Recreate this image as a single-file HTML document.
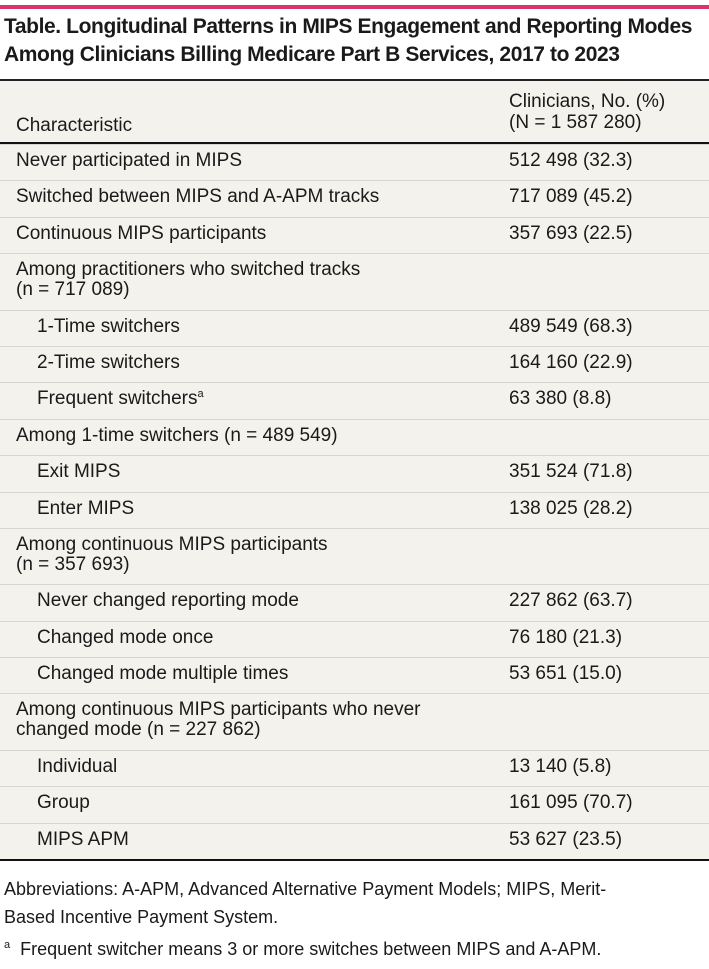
<!DOCTYPE html>
<html><head><meta charset="utf-8"><style>
body{margin:0;width:709px;height:969px;background:#fff;font-family:"Liberation Sans",sans-serif;color:#1a1a1a;position:relative;overflow:hidden}
.bar{position:absolute;left:0;top:5px;width:709px;height:4px;background:#d9356b}
.title{position:absolute;left:4px;top:13px;font-size:21px;line-height:28px;font-weight:bold;letter-spacing:-0.4px}
.tbl{position:absolute;left:0;top:79px;width:709px;background:#f3f2ec;border-top:2px solid #222;border-bottom:2px solid #111}
.hdr{height:61px;border-bottom:2px solid #111;position:relative;font-size:19px}
.row{position:relative;border-top:1px solid #d8d6d0;font-size:19px;line-height:20px}
.row:first-of-type{border-top:none}
.c1{position:absolute;left:16px}
.in{left:37px}
.c2{position:absolute;left:509px}
.s{height:35.4px}.s .c1,.s .c2{top:6px}
.d{height:55.4px}.d .c1{top:6px}
sup{font-size:11px;line-height:0;vertical-align:7px}
.foot{position:absolute;left:4px;font-size:18px}
</style></head><body>
<div class="bar"></div>
<div class="title">Table. Longitudinal Patterns in MIPS Engagement and Reporting Modes<br>Among Clinicians Billing Medicare Part B Services, 2017 to 2023</div>
<div class="tbl">
<div class="hdr"><span class="c1" style="top:34px">Characteristic</span><span class="c2" style="top:10px;line-height:21px">Clinicians, No. (%)<br>(N = 1 587 280)</span></div>
<div class="row s"><span class="c1">Never participated in MIPS</span><span class="c2">512 498 (32.3)</span></div>
<div class="row s"><span class="c1">Switched between MIPS and A-APM tracks</span><span class="c2">717 089 (45.2)</span></div>
<div class="row s"><span class="c1">Continuous MIPS participants</span><span class="c2">357 693 (22.5)</span></div>
<div class="row d"><span class="c1">Among practitioners who switched tracks<br>(n = 717 089)</span></div>
<div class="row s"><span class="c1 in">1-Time switchers</span><span class="c2">489 549 (68.3)</span></div>
<div class="row s"><span class="c1 in">2-Time switchers</span><span class="c2">164 160 (22.9)</span></div>
<div class="row s"><span class="c1 in">Frequent switchers<sup>a</sup></span><span class="c2">63 380 (8.8)</span></div>
<div class="row s"><span class="c1">Among 1-time switchers (n = 489 549)</span></div>
<div class="row s"><span class="c1 in">Exit MIPS</span><span class="c2">351 524 (71.8)</span></div>
<div class="row s"><span class="c1 in">Enter MIPS</span><span class="c2">138 025 (28.2)</span></div>
<div class="row d"><span class="c1">Among continuous MIPS participants<br>(n = 357 693)</span></div>
<div class="row s"><span class="c1 in">Never changed reporting mode</span><span class="c2">227 862 (63.7)</span></div>
<div class="row s"><span class="c1 in">Changed mode once</span><span class="c2">76 180 (21.3)</span></div>
<div class="row s"><span class="c1 in">Changed mode multiple times</span><span class="c2">53 651 (15.0)</span></div>
<div class="row d"><span class="c1">Among continuous MIPS participants who never<br>changed mode (n = 227 862)</span></div>
<div class="row s"><span class="c1 in">Individual</span><span class="c2">13 140 (5.8)</span></div>
<div class="row s"><span class="c1 in">Group</span><span class="c2">161 095 (70.7)</span></div>
<div class="row s"><span class="c1 in">MIPS APM</span><span class="c2">53 627 (23.5)</span></div>
</div>
<div class="foot" style="top:875px;line-height:28px">Abbreviations: A-APM, Advanced Alternative Payment Models; MIPS, Merit-<br>Based Incentive Payment System.</div>
<div class="foot" style="top:939px"><sup>a</sup>&nbsp; Frequent switcher means 3 or more switches between MIPS and A-APM.</div>
</body></html>
